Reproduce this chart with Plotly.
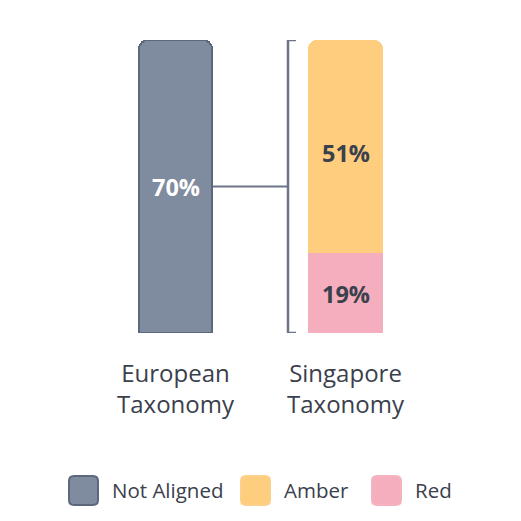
import plotly.graph_objects as go

categories = ["European<br>Taxonomy", "Singapore<br>Taxonomy"]
not_aligned = [70, None]
amber = [None, 51]
red = [None, 19]
legend_labels = ["Not Aligned", "Amber", "Red"]
colors = {"Not Aligned": "#7f8b9e", "Amber": "#fecd7e", "Red": "#f4aebd"}
borders = {"Not Aligned": "#5c687b", "Amber": "#fdd08a", "Red": "#f4b3bf"}
TEXT = "#3a404c"
FONT = "Open Sans, sans-serif"

xs = [0, 1]
W = 75 / 170
ML, MT, MB = 0, 40, 188
PH = 521 - MT - MB


def px_x(px):
    return px / 521


def px_y(py):
    return (521 - MB - py) / PH


fig = go.Figure()
fig.add_bar(x=xs, y=red, width=W, marker=dict(color=colors["Red"], line=dict(width=0)),
            showlegend=False, hoverinfo="skip")
fig.add_bar(x=xs, y=amber, width=W, marker=dict(color=colors["Amber"], line=dict(width=0)),
            showlegend=False, hoverinfo="skip")
fig.add_bar(x=xs, y=not_aligned, width=W - 2 / 170,
            marker=dict(color=colors["Not Aligned"], line=dict(width=2, color=borders["Not Aligned"])),
            showlegend=False, hoverinfo="skip")

# value labels
VS = 23.5
fig.add_annotation(x=0, y=not_aligned[0] / 2, text="<b>70%</b>", showarrow=False,
                   font=dict(family=FONT, size=VS, color="white"))
fig.add_annotation(x=1, y=red[1] + amber[1] / 2, yshift=-6, text="<b>51%</b>", showarrow=False,
                   font=dict(family=FONT, size=VS, color=TEXT))
fig.add_annotation(x=1, y=red[1] / 2, yshift=-1, text="<b>19%</b>", showarrow=False,
                   font=dict(family=FONT, size=VS, color=TEXT))

# bracket and connector
line_c = "#6b7586"
bx = 1 - (345.5 - 288) / 170
fig.add_shape(type="line", x0=W / 2, x1=bx, y0=not_aligned[0] / 2, y1=not_aligned[0] / 2,
              line=dict(color=line_c, width=2))
fig.add_shape(type="path",
              path=f"M {bx + 8/170} 70 L {bx} 70 L {bx} 0 L {bx + 8/170} 0",
              line=dict(color=line_c, width=2.5))


def rounded_rect(x0, y0, x1, y1, r):
    pts = [
        ("M", x0 + r, y0), ("L", x1 - r, y0), ("Q", x1, y0, x1, y0 + r),
        ("L", x1, y1 - r), ("Q", x1, y1, x1 - r, y1), ("L", x0 + r, y1),
        ("Q", x0, y1, x0, y1 - r), ("L", x0, y0 + r), ("Q", x0, y0, x0 + r, y0),
    ]
    out = []
    for p in pts:
        cmd = p[0]
        coords = p[1:]
        s = []
        for i in range(0, len(coords), 2):
            s.append(f"{px_x(coords[i]):.5f},{px_y(coords[i+1]):.5f}")
        out.append(cmd + " " + " ".join(s))
    return " ".join(out) + " Z"


# manual legend
legend_x = [69, 241, 372]
for lbl, lx in zip(legend_labels, legend_x):
    fig.add_shape(type="path", xref="paper", yref="paper",
                  path=rounded_rect(lx, 476, lx + 29, 505, 5),
                  fillcolor=colors[lbl], line=dict(color=borders[lbl], width=2))
    fig.add_annotation(xref="paper", yref="paper", x=px_x(lx + 41), y=px_y(490.5),
                       xanchor="left", yanchor="middle", text=lbl, showarrow=False,
                       font=dict(family=FONT, size=20.5, color=TEXT))

fig.update_layout(
    width=521, height=521, barmode="stack",
    margin=dict(l=ML, r=0, t=MT, b=MB),
    paper_bgcolor="white", plot_bgcolor="white",
    barcornerradius=9,
    xaxis=dict(range=[-175.5 / 170, 1 + 175.5 / 170], tickvals=xs, ticktext=categories,
               showgrid=False, zeroline=False, showline=False, ticks="",
               tickfont=dict(family=FONT, size=24, color=TEXT), ticklabelstandoff=24),
    yaxis=dict(range=[0, 70], visible=False),
    font=dict(family=FONT),
)

fig.write_html("out.html", config={"displayModeBar": False},
               post_script="document.body.style.margin='0px';")
